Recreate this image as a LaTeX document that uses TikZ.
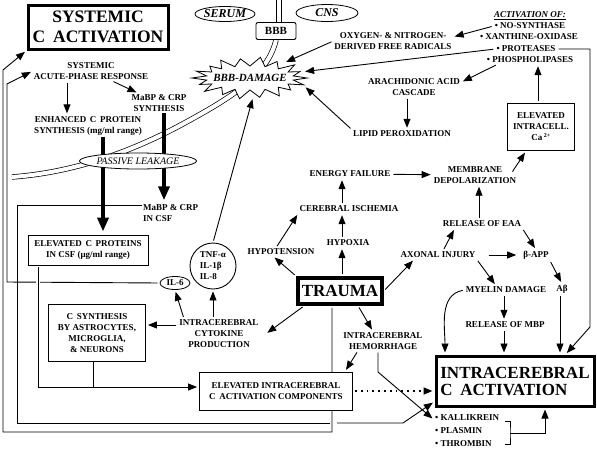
\documentclass[tikz,border=0pt]{standalone}
\usepackage{fontspec}
\setmainfont{Liberation Serif}
\usetikzlibrary{arrows.meta, positioning, shapes.geometric, backgrounds, calc}

\tikzset{
  lbl/.style={align=center, inner sep=1pt, font=\bfseries\fontsize{9}{11}\selectfont},
  box/.style={lbl, draw, line width=0.9pt, inner sep=2pt, fill=white},
  bigbox/.style={draw, line width=3pt, align=center, fill=white},
  oval/.style={ellipse, draw, line width=0.8pt, inner sep=0pt, fill=white},
  ln/.style={line width=0.9pt},
  arr/.style={ln, -{Triangle[length=9pt,width=7pt]}, shorten >=2pt, shorten <=2pt},
  fat/.style={line width=3.5pt, -{Triangle[length=14pt,width=11pt]}, shorten >=3pt},
  wall/.style={double, double distance=4pt, line width=0.7pt},
}

\begin{document}
\begin{tikzpicture}[x=1pt,y=1pt]
\useasboundingbox (0,0) rectangle (597,-448);

% upper left
\node[bigbox, minimum width=140pt, minimum height=44pt, font=\bfseries\fontsize{17.5}{20}\selectfont] (sys) at (98,-27) {SYSTEMIC\\C\hspace{0.45em}ACTIVATION};
\node[lbl] (acute) at (91,-71) {SYSTEMIC\\ACUTE-PHASE RESPONSE};
\node[lbl] (enh) at (88,-126) {ENHANCED\hspace{0.4em}C\hspace{0.4em}PROTEIN\\SYNTHESIS (mg/ml range)};
\node[lbl] (mabp) at (159,-103) {MaBP \& CRP\\SYNTHESIS};
\node[lbl, align=left, anchor=west] (csf) at (142,-213) {MaBP \& CRP\\IN CSF};
\node[box, minimum width=120pt, minimum height=30pt] (elev) at (88,-250) {ELEVATED\hspace{0.4em}C\hspace{0.4em}PROTEINS\\IN CSF (μg/ml range)};

% barrier
\node[oval, minimum width=60pt, minimum height=15pt, font=\bfseries\itshape\fontsize{12}{12}\selectfont] (serum) at (225,-14) {SERUM};
\node[oval, minimum width=62pt, minimum height=17pt, font=\bfseries\itshape\fontsize{12}{12}\selectfont] (cns) at (327,-13) {CNS};
\node[box, rounded corners=2pt, minimum width=40pt, minimum height=17pt, inner sep=1pt, font=\bfseries\fontsize{11}{11}\selectfont] (bbb) at (276,-31) {BBB};
\coordinate (dmgc) at (250,-78);
\draw[fill=white, line width=0.8pt] ([shift={(0:57 and 20)}]dmgc)
  \foreach \a/\r in {0/1, 20/0.93, 40/1.02, 60/0.95, 80/1.05, 100/0.97, 120/1.03, 140/0.92, 160/1,
                     180/1.02, 200/0.94, 220/1.04, 240/0.96, 260/1.05, 280/0.98, 300/1.03, 320/0.93, 340/1}
  { -- ([shift={(\a:{57*\r} and {20*\r})}]dmgc) -- ([shift={(\a+10:44 and 12)}]dmgc) } -- cycle;
\node[ellipse, minimum width=112pt, minimum height=38pt, inner sep=0pt, font=\bfseries\itshape\fontsize{11}{11}\selectfont] (dmg) at (dmgc) {BBB-DAMAGE};

% upper right
\node[lbl] (act) at (530,-16) {\underline{\itshape ACTIVATION OF:}};
\node[lbl] (nos) at (530,-26) {• NO-SYNTHASE};
\node[lbl] (xo) at (529,-37) {• XANTHINE-OXIDASE};
\node[lbl] (prot) at (526,-49) {• PROTEASES};
\node[lbl] (phos) at (530,-60) {• PHOSPHOLIPASES};
\node[lbl] (oxy) at (393,-41) {OXYGEN- \& NITROGEN-\\DERIVED FREE RADICALS};
\node[lbl] (arach) at (414,-87) {ARACHIDONIC ACID\\CASCADE};
\node[lbl] (lipid) at (402,-134) {LIPID PEROXIDATION};
\node[box, minimum width=67pt, minimum height=47pt, inner sep=1pt] (ca) at (541,-127) {ELEVATED\\INTRACELL.\\Ca\,\textsuperscript{2+}};

% middle
\node[lbl] (energy) at (350,-174) {ENERGY FAILURE};
\node[lbl] (memb) at (475,-175) {MEMBRANE\\DEPOLARIZATION};
\node[lbl] (isch) at (349,-209) {CEREBRAL ISCHEMIA};
\node[lbl] (hypox) at (348,-243) {HYPOXIA};
\node[lbl] (hypo) at (281,-252) {HYPOTENSION};
\node[lbl] (eaa) at (482,-224) {RELEASE OF EAA};
\node[lbl] (axon) at (438,-255) {AXONAL INJURY};
\node[lbl] (bapp) at (536,-255) {β-APP};
\node[lbl] (myelin) at (506,-290) {MYELIN DAMAGE};
\node[lbl] (abeta) at (562,-289) {Aβ};
\node[lbl] (mbp) at (505,-325) {RELEASE OF MBP};
\node[bigbox, line width=3.5pt, minimum width=84pt, minimum height=26pt, font=\bfseries\fontsize{17}{17}\selectfont] (trauma) at (340,-291) {TRAUMA};
\node[circle, draw, ln, lbl, align=left, minimum size=46pt] (tnf) at (213,-266) {TNF-α\\IL-1β\\IL-8};
\node[oval, minimum width=30pt, minimum height=13pt, font=\bfseries\fontsize{9}{9}\selectfont] (il6) at (175,-283) {IL-6};

% lower part
\node[lbl] (cyto) at (219,-334) {INTRACEREBRAL\\CYTOKINE\\PRODUCTION};
\node[box, minimum width=97pt, minimum height=57pt, inner sep=1pt] (csyn) at (97,-333) {C\hspace{0.4em}SYNTHESIS\\BY ASTROCYTES,\\MICROGLIA,\\\& NEURONS};
\node[lbl] (hem) at (383,-341) {INTRACEREBRAL\\HEMORRHAGE};
\node[bigbox, minimum width=158pt, minimum height=50pt, align=left, font=\bfseries\fontsize{17}{17}\selectfont] (icact) at (515,-381) {INTRACEREBRAL\\C\hspace{0.45em}ACTIVATION};
\node[lbl, align=left, anchor=west, font=\bfseries\fontsize{9}{13}\selectfont] (prot2) at (434,-431) {• KALLIKREIN\\• PLASMIN\\• THROMBIN};

\begin{pgfonlayer}{background}
\draw[wall] (279,0) -- (279,-23);
\draw[wall] (bbb.south) .. controls (268,-75) and (230,-98) .. (190,-120) .. controls (140,-148) and (80,-172) .. (12,-177);
\end{pgfonlayer}

% leakage
\draw[fat] (enh.south -| 103,0) -- (elev.north -| 103,0);
\draw[fat] (mabp.south -| 164,0) -- (csf.north -| 164,0);
\node[oval, minimum width=110pt, minimum height=16pt, font=\itshape\fontsize{10}{10}\selectfont] (leak) at (138,-161) {PASSIVE LEAKAGE};

\draw[arr] (acute.south -| 67,0) -- (enh.north -| 67,0);
\draw[arr] (acute) -- (mabp);

% long returns on the left
\draw[ln] (csf.west |- 0,-205) -| (17,-423) -- (330,-423);
\draw[arr] (335,-423) -- (403,-423) -- ([yshift=6pt]icact.south west);
\draw[arr] (il6.west) -- (7,-282) -- (7,-84) -- (acute.west);
\draw[arr, preaction={draw, white, line width=4pt, -}] ([xshift=-8pt]trauma.south) -- (332,-432) -| (3,-70) -- (sys.south west);
\node[box, minimum width=153pt, minimum height=38pt] (elevic) at (276,-391) {ELEVATED INTRACEREBRAL\\C\hspace{0.4em}ACTIVATION COMPONENTS};
\draw[arr, preaction={draw, white, line width=4pt, -}] (elev.south -| 38,0) -- (38,-387) -- (elevic.west |- 0,-387);
\draw[ln] (csyn.south -| 93,0) -- (93,-387);

% toward BBB damage
\draw[arr] (nos.west) -- ([yshift=4pt]oxy.east);
\draw[arr] (oxy.west) -- (dmg);
\draw[arr] (prot.west) -- (dmg);
\draw[arr] ([xshift=12pt]phos.south west) -- ([yshift=-5pt]arach.north east);
\draw[arr] (arach.south -| 407,0) -- (lipid.north -| 407,0);
\draw[arr] (lipid.north west) -- ([shift={(-2,-8)}]dmg.east);
\draw[arr] (tnf.north) -- ([xshift=3pt]dmg.south);
\draw[arr] (prot.east) -- (590,-49) -- (590,-327) -- ([xshift=-30pt]icact.north east);
\draw[arr] (ca.north -| 538,0) -- (phos.south -| 538,0);

% trauma cascade
\draw[arr] (trauma.north -| 342,0) -- (hypox.south -| 342,0);
\draw[arr] (hypox.north -| 342,0) -- (isch.south -| 342,0);
\draw[arr] (isch.north -| 342,0) -- (energy.south -| 342,0);
\draw[arr] (energy) -- (memb);
\draw[arr] ([shift={(-6,-8)}]memb.north east) -- ([xshift=19pt]ca.south west);
\draw[arr] (trauma.north west) -- ([xshift=-8pt]hypo.south);
\draw[arr] ([xshift=-5pt]hypo.north) -- (isch.south west);
\draw[arr] (trauma.east) -- ([xshift=15pt]axon.south west);
\draw[arr] ([xshift=5pt]axon.north) -- ([xshift=13pt]eaa.south west);
\draw[arr] (eaa.north -| 479,0) -- (memb.south -| 479,0);
\draw[arr] (eaa.south east) -- (bapp.north);
\draw[arr] ([xshift=10pt]axon.east) -- ([xshift=-4pt]bapp.west);
\draw[arr] (axon.south east) -- ([xshift=-10pt]myelin.north);
\draw[arr] (bapp.south east) -- (abeta.north);
\draw[arr] (abeta.south -| 560,0) -- (icact.north -| 560,0);
\draw[arr] (myelin.south -| 504,0) -- (mbp.north -| 504,0);
\draw[arr] (mbp.south -| 504,0) -- (icact.north -| 504,0);
\draw[arr] (myelin.west) to[out=190, in=90] (icact.north -| 445,0);

% lower
\draw[arr] ([xshift=18pt]trauma.south) -- ([xshift=-10pt]hem.north);
\draw[arr] ([xshift=-25pt]hem.south) -- ([xshift=-8pt]elevic.north east);
\draw[arr] (hem.south -| 378,0) -- (378,-372) -- ([yshift=-6pt]prot2.north west);
\draw[arr, line width=1.8pt, dash pattern=on 1.8pt off 4pt] (elevic.east) -- (icact.west |- elevic.east);
\draw[arr] ([xshift=8pt]trauma.south west) -- ([xshift=6pt]cyto.east);
\draw[arr] ([xshift=-35pt]cyto.north) -- (il6.south);
\draw[arr] (cyto.north -| tnf) -- (tnf.south);
\draw[arr] (cyto.west |- 0,-325) -- (csyn.east |- 0,-325);
\coordinate (brk) at (510,-433);
\draw[ln] (505,-421) -| (brk) |- (505,-444);
\draw[arr, shorten <=0pt] (brk) -- (545,-433) -- (icact.south -| 545,0);

\end{tikzpicture}
\end{document}
